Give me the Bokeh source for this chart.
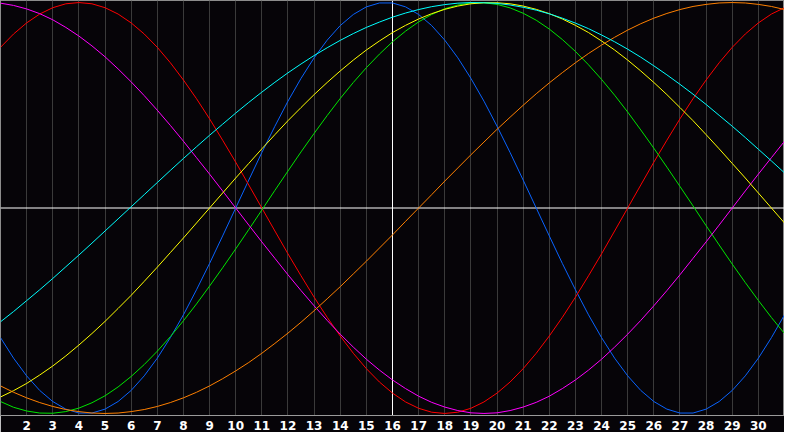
from bokeh.plotting import figure
from bokeh.models import Span, FixedTicker
from bokeh.embed import file_html
from bokeh.resources import INLINE

# Day of month (x) at half-day steps, and labelled ticks
days = [1 + 0.5 * i for i in range(61)]
grid_days = list(range(1, 32))
tick_days = list(range(2, 31))
today = 16

# Values (-1 .. 1), one per half day from day 1 to day 31
physical = [-0.631, -0.731, -0.817, -0.888, -0.942, -0.979, -0.998, -0.998, -0.979, -0.942,
            -0.888, -0.817, -0.731, -0.631, -0.520, -0.398, -0.270, -0.136, 0.000, 0.136,
            0.270, 0.398, 0.520, 0.631, 0.731, 0.817, 0.888, 0.942, 0.979, 0.998,
            0.998, 0.979, 0.942, 0.888, 0.817, 0.731, 0.631, 0.520, 0.398, 0.270,
            0.136, 0.000, -0.136, -0.270, -0.398, -0.520, -0.631, -0.731, -0.817, -0.888,
            -0.942, -0.979, -0.998, -0.998, -0.979, -0.942, -0.888, -0.817, -0.731, -0.631,
            -0.520]
emotional = [0.782, 0.847, 0.901, 0.944, 0.975, 0.994, 1.000, 0.994, 0.975, 0.944,
             0.901, 0.847, 0.782, 0.707, 0.623, 0.532, 0.434, 0.330, 0.223, 0.112,
             0.000, -0.112, -0.223, -0.330, -0.434, -0.532, -0.623, -0.707, -0.782, -0.847,
             -0.901, -0.944, -0.975, -0.994, -1.000, -0.994, -0.975, -0.944, -0.901, -0.847,
             -0.782, -0.707, -0.623, -0.532, -0.434, -0.330, -0.223, -0.112, 0.000, 0.112,
             0.223, 0.330, 0.434, 0.532, 0.623, 0.707, 0.782, 0.847, 0.901, 0.944,
             0.975]
intellectual = [-0.942, -0.970, -0.988, -0.998, -0.999, -0.991, -0.974, -0.948, -0.914, -0.871,
                -0.820, -0.762, -0.697, -0.626, -0.549, -0.467, -0.380, -0.291, -0.199, -0.105,
                -0.010, 0.086, 0.180, 0.273, 0.363, 0.450, 0.533, 0.611, 0.683, 0.749,
                0.809, 0.861, 0.906, 0.942, 0.970, 0.988, 0.998, 0.999, 0.991, 0.974,
                0.948, 0.914, 0.871, 0.820, 0.762, 0.697, 0.626, 0.549, 0.467, 0.380,
                0.291, 0.199, 0.105, 0.010, -0.086, -0.180, -0.273, -0.363, -0.450, -0.533,
                -0.611]
intuitive = [0.997, 0.986, 0.969, 0.946, 0.916, 0.879, 0.837, 0.789, 0.736, 0.677,
             0.614, 0.547, 0.476, 0.402, 0.325, 0.245, 0.165, 0.083, 0.000, -0.083,
             -0.165, -0.245, -0.325, -0.402, -0.476, -0.547, -0.614, -0.677, -0.736, -0.789,
             -0.837, -0.879, -0.916, -0.946, -0.969, -0.986, -0.997, -1.000, -0.997, -0.986,
             -0.969, -0.946, -0.916, -0.879, -0.837, -0.789, -0.736, -0.677, -0.614, -0.547,
             -0.476, -0.402, -0.325, -0.245, -0.165, -0.083, 0.000, 0.083, 0.165, 0.245,
             0.325]
aesthetic = [-0.920, -0.889, -0.854, -0.813, -0.769, -0.720, -0.667, -0.611, -0.552, -0.489,
             -0.425, -0.357, -0.288, -0.217, -0.146, -0.073, 0.000, 0.073, 0.146, 0.217,
             0.288, 0.357, 0.425, 0.489, 0.552, 0.611, 0.667, 0.720, 0.769, 0.813,
             0.854, 0.889, 0.920, 0.946, 0.967, 0.983, 0.994, 0.999, 0.999, 0.994,
             0.983, 0.967, 0.946, 0.920, 0.889, 0.854, 0.813, 0.769, 0.720, 0.667,
             0.611, 0.552, 0.489, 0.425, 0.357, 0.288, 0.217, 0.146, 0.073, 0.000,
             -0.073]
awareness = [-0.866, -0.897, -0.924, -0.947, -0.966, -0.981, -0.991, -0.998, -1.000, -0.998,
             -0.991, -0.981, -0.966, -0.947, -0.924, -0.897, -0.866, -0.831, -0.793, -0.752,
             -0.707, -0.659, -0.609, -0.556, -0.500, -0.442, -0.383, -0.321, -0.259, -0.195,
             -0.131, -0.065, 0.000, 0.065, 0.131, 0.195, 0.259, 0.321, 0.383, 0.442,
             0.500, 0.556, 0.609, 0.659, 0.707, 0.752, 0.793, 0.831, 0.866, 0.897,
             0.924, 0.947, 0.966, 0.981, 0.991, 0.998, 1.000, 0.998, 0.991, 0.981,
             0.966]
spiritual = [-0.554, -0.504, -0.451, -0.398, -0.343, -0.286, -0.229, -0.171, -0.112, -0.053,
             0.006, 0.065, 0.124, 0.183, 0.241, 0.298, 0.354, 0.408, 0.462, 0.514,
             0.564, 0.612, 0.658, 0.701, 0.742, 0.780, 0.816, 0.849, 0.879, 0.905,
             0.929, 0.949, 0.966, 0.980, 0.990, 0.997, 1.000, 0.999, 0.996, 0.988,
             0.977, 0.963, 0.945, 0.924, 0.900, 0.873, 0.842, 0.809, 0.773, 0.734,
             0.692, 0.648, 0.602, 0.554, 0.504, 0.451, 0.398, 0.343, 0.286, 0.229,
             0.171]

series = [
    (physical, "#0a64ff"),
    (emotional, "#ff0000"),
    (intellectual, "#00e600"),
    (intuitive, "#ff00ff"),
    (aesthetic, "#ffff00"),
    (awareness, "#ff8000"),
    (spiritual, "#00ffff"),
]

BG = "#060408"

p = figure(width=784, height=432, x_range=(1, 31), y_range=(-1.01, 1.01),
           output_backend="svg", toolbar_location=None, y_axis_location=None,
           min_border_left=0, min_border_right=0, min_border_top=0, min_border_bottom=0)
p.background_fill_color = BG
p.border_fill_color = BG
p.outline_line_color = "#8c8c8c"
p.outline_line_width = 1

p.ygrid.visible = False
p.xgrid.ticker = FixedTicker(ticks=grid_days)
p.xgrid.grid_line_color = "#3a3a3a"
p.xgrid.grid_line_width = 1

ax = p.xaxis[0]
ax.ticker = FixedTicker(ticks=tick_days)
ax.axis_line_color = "#9a9a9a"
ax.major_tick_line_color = None
ax.minor_tick_line_color = None
ax.major_tick_out = 0
ax.major_tick_in = 0
ax.major_label_standoff = 5
ax.major_label_text_color = "white"
ax.major_label_text_font = "DejaVu Sans"
ax.major_label_text_font_style = "bold"
ax.major_label_text_font_size = "12px"

p.add_layout(Span(location=0, dimension="width", line_color="white", line_width=1, level="underlay"))
p.add_layout(Span(location=today, dimension="height", line_color="white", line_width=1, level="underlay"))

for vals, color in series:
    p.line(days, vals, line_color=color, line_width=1)

open("out.html", "w").write(file_html(p, INLINE))
